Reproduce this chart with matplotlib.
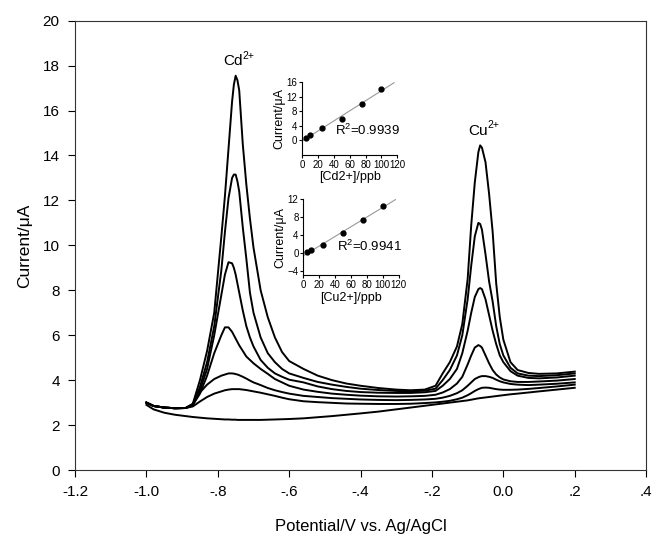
import numpy as np
import matplotlib
matplotlib.use("Agg")
import matplotlib.pyplot as plt

plt.rcParams["font.family"] = ["Liberation Sans", "DejaVu Sans"]
plt.rcParams["mathtext.fontset"] = "custom"
plt.rcParams["mathtext.rm"] = "Liberation Sans"

# stripping voltammograms (potential in V, current in uA)
potential = [-1.00, -0.98, -0.95, -0.92, -0.89, -0.87, -0.85, -0.83, -0.81, -0.79,
             -0.78, -0.77, -0.76, -0.755, -0.75, -0.745, -0.74, -0.73, -0.72, -0.71,
             -0.70, -0.68, -0.66, -0.64, -0.62, -0.60, -0.56, -0.52, -0.48, -0.44,
             -0.40, -0.35, -0.30, -0.26, -0.22, -0.19, -0.17, -0.15, -0.13, -0.115,
             -0.10, -0.09, -0.08, -0.07, -0.065, -0.06, -0.05, -0.04, -0.03, -0.02,
             -0.01, 0.00, 0.02, 0.04, 0.07, 0.10, 0.15, 0.20]

curve_a = [3.0, 2.85, 2.78, 2.75, 2.76, 2.95, 4.0, 5.3, 7.0, 10.4,
           12.2, 14.3, 16.4, 17.15, 17.55, 17.35, 16.9, 14.5, 12.7, 11.2,
           9.9, 8.0, 6.8, 5.9, 5.25, 4.85, 4.5, 4.2, 4.0, 3.85,
           3.75, 3.65, 3.58, 3.55, 3.58, 3.75, 4.3, 4.8, 5.5, 6.5,
           8.5, 10.9, 12.8, 14.15, 14.45, 14.35, 13.7, 12.3, 10.6, 8.3,
           6.8, 5.8, 4.8, 4.45, 4.32, 4.28, 4.3, 4.38]
curve_b = [3.0, 2.85, 2.78, 2.75, 2.76, 2.93, 3.7, 4.8, 6.4, 8.9,
           10.6, 12.1, 13.0, 13.15, 13.15, 12.85, 12.4, 10.8, 9.4, 7.9,
           7.0, 5.9, 5.2, 4.8, 4.5, 4.3, 4.1, 3.92, 3.8, 3.7,
           3.62, 3.56, 3.52, 3.5, 3.53, 3.62, 4.0, 4.45, 5.1, 6.0,
           7.6, 9.1, 10.4, 11.0, 10.95, 10.7, 9.6, 8.4, 7.5, 6.4,
           5.6, 5.1, 4.55, 4.3, 4.2, 4.18, 4.22, 4.3]
curve_c = [3.0, 2.85, 2.78, 2.75, 2.76, 2.92, 3.55, 4.5, 6.0, 7.8,
           8.7, 9.25, 9.2, 9.0, 8.7, 8.3, 7.9, 7.1, 6.4, 5.9,
           5.5, 4.9, 4.55, 4.3, 4.15, 4.02, 3.9, 3.72, 3.6, 3.52,
           3.47, 3.44, 3.43, 3.43, 3.46, 3.52, 3.75, 4.05, 4.5, 5.2,
           6.2, 7.0, 7.7, 8.05, 8.1, 8.05, 7.6, 6.9, 6.2, 5.6,
           5.1, 4.8, 4.4, 4.2, 4.1, 4.08, 4.12, 4.2]
curve_d = [3.0, 2.85, 2.78, 2.75, 2.76, 2.9, 3.4, 4.2, 5.2, 6.0,
           6.35, 6.35, 6.15, 6.0, 5.85, 5.7, 5.55, 5.3, 5.05, 4.9,
           4.75, 4.5, 4.28, 4.05, 3.9, 3.75, 3.58, 3.48, 3.4, 3.35,
           3.31, 3.28, 3.27, 3.28, 3.3, 3.35, 3.45, 3.6, 3.85, 4.15,
           4.7, 5.1, 5.45, 5.56, 5.52, 5.45, 5.1, 4.75, 4.45, 4.25,
           4.12, 4.03, 3.95, 3.92, 3.92, 3.94, 3.98, 4.05]
curve_e = [3.0, 2.85, 2.78, 2.75, 2.76, 2.9, 3.45, 3.8, 4.05, 4.2,
           4.25, 4.3, 4.3, 4.29, 4.27, 4.25, 4.22, 4.15, 4.07, 3.98,
           3.9, 3.78, 3.65, 3.55, 3.47, 3.4, 3.3, 3.25, 3.2, 3.17,
           3.14, 3.12, 3.11, 3.12, 3.14, 3.17, 3.22, 3.3, 3.42, 3.55,
           3.75, 3.9, 4.05, 4.13, 4.16, 4.18, 4.18, 4.15, 4.1, 4.02,
           3.95, 3.9, 3.83, 3.8, 3.78, 3.8, 3.84, 3.9]
curve_f = [3.0, 2.85, 2.78, 2.75, 2.76, 2.83, 3.05, 3.25, 3.4, 3.5,
           3.55, 3.58, 3.6, 3.6, 3.6, 3.6, 3.6, 3.58, 3.56, 3.53,
           3.5, 3.44, 3.37, 3.3, 3.22, 3.15, 3.06, 3.02, 2.99, 2.96,
           2.95, 2.94, 2.94, 2.95, 2.98, 3.01, 3.04, 3.08, 3.15, 3.22,
           3.33, 3.42, 3.52, 3.6, 3.63, 3.66, 3.67, 3.66, 3.63, 3.6,
           3.58, 3.57, 3.57, 3.58, 3.61, 3.65, 3.72, 3.8]
blank = [2.9, 2.7, 2.55, 2.46, 2.4, 2.36, 2.33, 2.3, 2.28, 2.26,
         2.25, 2.25, 2.24, 2.24, 2.24, 2.23, 2.23, 2.23, 2.23, 2.23,
         2.23, 2.23, 2.24, 2.25, 2.26, 2.27, 2.3, 2.35, 2.4, 2.46,
         2.52, 2.6, 2.7, 2.78, 2.86, 2.92, 2.96, 3.0, 3.04, 3.07,
         3.1, 3.13, 3.16, 3.19, 3.2, 3.21, 3.23, 3.25, 3.27, 3.29,
         3.31, 3.33, 3.37, 3.4, 3.45, 3.5, 3.58, 3.66]

# calibration insets
conc = [5, 10, 25, 50, 75, 100]
cd_current = [0.73, 1.37, 3.4, 6.0, 10.0, 14.1]
cu_current = [0.3, 0.55, 1.7, 4.4, 7.3, 10.5]

xticks = [-1.2, -1.0, -0.8, -0.6, -0.4, -0.2, 0.0, 0.2, 0.4]
xticklabels = ["-1.2", "-1.0", "-.8", "-.6", "-.4", "-.2", "0.0", ".2", ".4"]

fig = plt.figure(figsize=(6.61, 5.44), dpi=100)
ax = fig.add_axes([0.1135, 0.136, 0.864, 0.826])

for c in [curve_a, curve_b, curve_c, curve_d, curve_e, curve_f, blank]:
    ax.plot(potential, c, color="black", lw=1.4, solid_joinstyle="round")

ax.set_xlim(-1.2, 0.4)
ax.set_ylim(0, 20)
ax.set_xticks(xticks)
ax.set_xticklabels(xticklabels)
ax.set_yticks(range(0, 21, 2))
ax.tick_params(labelsize=11, direction="out", length=5, pad=6)
for s in ax.spines.values():
    s.set_color("#333333")
ax.set_xlabel("Potential/V vs. Ag/AgCl", fontsize=12, labelpad=14)
ax.set_ylabel("Current/\u03bcA", fontsize=12.5, labelpad=8)

# peak labels with superscript charge
for xp, yp, name in [(-0.757, 18.2, "Cd"), (-0.072, 15.1, "Cu")]:
    ax.text(xp, yp, name, fontsize=11, ha="center", va="center")
    ax.annotate("2+", (xp, yp), xytext=(7, 4), textcoords="offset points",
                fontsize=7.5, ha="left", va="center")


def inset(rect, y, ylim, yticks, xlabel, r2):
    ia = fig.add_axes(rect)
    k, b = np.polyfit(conc, y, 1)
    xl = np.array([0, 116])
    ia.plot(xl, k * xl + b, color="#999999", lw=0.8, clip_on=False)
    ia.plot(conc, y, "o", color="black", ms=3.5)
    ia.set_xlim(0, 120)
    ia.set_ylim(*ylim)
    ia.set_xticks(range(0, 121, 20))
    ia.set_yticks(yticks)
    ia.spines["top"].set_visible(False)
    ia.spines["right"].set_visible(False)
    ia.tick_params(labelsize=7, length=2, pad=1.5)
    ia.set_xlabel(xlabel, fontsize=9, labelpad=1)
    ia.set_ylabel("Current/\u03bcA", fontsize=9, labelpad=1)
    ia.text(42, y[3] - 1.2, r2, fontsize=9.5, va="top")
    ia.patch.set_alpha(0)
    return ia


inset([0.457, 0.715, 0.144, 0.134], cd_current, (-4, 16), [0, 4, 8, 12, 16],
      "[Cd2+]/ppb", "R$^2$=0.9939")
inset([0.459, 0.494, 0.144, 0.140], cu_current, (-5, 12), [-4, 0, 4, 8, 12],
      "[Cu2+]/ppb", "R$^2$=0.9941")

fig.savefig("out.png", dpi=100)
